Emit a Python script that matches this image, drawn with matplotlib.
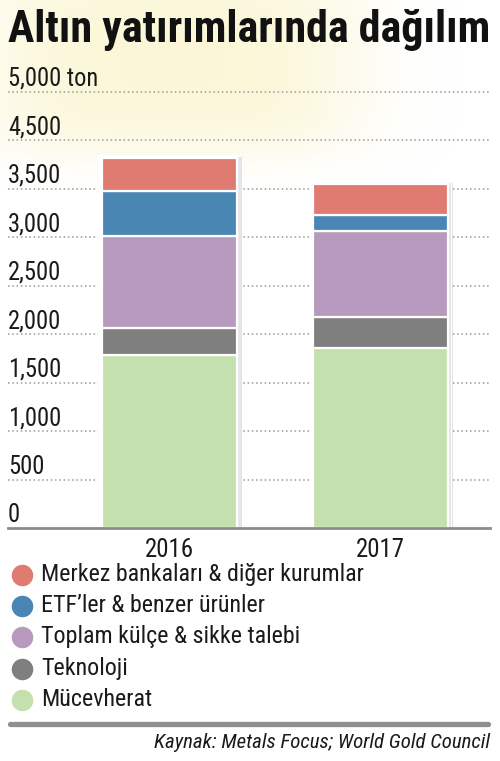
import matplotlib
matplotlib.use('Agg')
import matplotlib.pyplot as plt
import numpy as np
from matplotlib import font_manager as fm
from matplotlib.lines import Line2D
import matplotlib.transforms as mtransforms

# ---------------- data ----------------
years = ['2016', '2017']
mucevherat = [1785, 1857]
teknoloji = [275, 316]
kulce_sikke = [950, 896]
etf = [467, 165]
merkez = [344, 319]
series = [mucevherat, teknoloji, kulce_sikke, etf, merkez]
series_labels = ['Mücevherat', 'Teknoloji', 'Toplam külçe & sikke talebi',
                 'ETF’ler & benzer ürünler', 'Merkez bankaları & diğer kurumlar']
colors = ['#C4E0AF', '#7F7F80', '#B79ABD', '#4A86B4', '#E07B72']
tick_values = [0, 500, 1000, 1500, 2000, 2500, 3000, 3500, 4000, 4500]
tick_labels = ['0', '500', '1,000', '1,500', '2,000', '2,500', '3,000', '3,500',
               '4,500', '5,000 ton']
title = 'Altın yatırımlarında dağılım'
source = 'Kaynak: Metals Focus; World Gold Council'

# ---------------- fonts ----------------
entries = fm.fontManager.ttflist
pref = ['Liberation Sans Narrow', 'Roboto Condensed', 'Open Sans Condensed',
        'Noto Sans Condensed', 'Noto Sans', 'Roboto', 'DejaVu Sans']
cond = ('condensed', 'semi-condensed', 'extra-condensed', 'ultra-condensed')


def find_font(bold=False, italic=False):
    best = None
    best_score = -1e9
    for e in entries:
        if e.name not in pref:
            continue
        score = -pref.index(e.name) * 10
        st = str(e.stretch)
        if e.name in ('Noto Sans', 'Roboto', 'DejaVu Sans'):
            if st in cond or (isinstance(e.stretch, (int, float)) and e.stretch < 500):
                score += 5
            else:
                score -= 40
        w = e.weight if isinstance(e.weight, (int, float)) else fm.weight_dict.get(e.weight, 400)
        if bold:
            score -= abs(w - 800) / 100.0
        else:
            score -= abs(w - 400) / 100.0
        isit = e.style in ('italic', 'oblique')
        if isit != italic:
            score -= 20
        if score > best_score:
            best_score = score
            best = e
    if best is None:
        return fm.FontProperties(family='DejaVu Sans',
                                 weight='bold' if bold else 'normal',
                                 style='italic' if italic else 'normal')
    return fm.FontProperties(fname=best.fname)


f_reg = find_font()
f_bold = find_font(bold=True)
f_ital = find_font(italic=True)

W, H = 500, 761
fig = plt.figure(figsize=(W / 100, H / 100), dpi=100)
fig.patch.set_facecolor('white')

# decorative faint background (photo of gold in the original)
bg = fig.add_axes([0, 0, 1, 1], zorder=-10)
yy, xx = np.mgrid[0:H, 0:W]
img = np.ones((H, W, 4))
img[..., 0] = 251 / 255
img[..., 1] = 246 / 255
img[..., 2] = 212 / 255
m1 = np.exp(-(((xx - 170) / 190.0) ** 4 + ((yy - 60) / 95.0) ** 4))
img[..., 3] = 0.9 * m1 * (yy < 190)
bg.imshow(img, extent=[0, W, H, 0], aspect='auto', interpolation='bilinear')
bg.set_xlim(0, W)
bg.set_ylim(H, 0)
bg.axis('off')

# ---------------- main axes ----------------
px_per_ton = (528.3 - 91.7) / 4500.0
ymax = 4600
top_px = 528.3 - ymax * px_per_ton
ax_left = 8 / W
ax_w = (490 - 8) / W
ax_bot = 1 - 528.3 / H
ax_top = 1 - top_px / H
ax = fig.add_axes([ax_left, ax_bot, ax_w, ax_top - ax_bot])
ax.patch.set_alpha(0)

unit = 210.5
xl = -(169.5 - 8) / unit
xr = 1 + (490 - 380) / unit
ax.set_xlim(xl, xr)
ax.set_ylim(0, ymax)
bar_w = 135 / unit

x = np.arange(len(years))
totals = np.sum(np.array(series), axis=0)

# white halo + soft shadow behind bars
ax.bar(x + 4 / unit, totals + 2 / px_per_ton, width=bar_w + 2 / unit,
       color='#E3E3E8', zorder=2, linewidth=0)
ax.bar(x, totals + 3 / px_per_ton, width=bar_w + 8 / unit, color='white',
       zorder=2.2, linewidth=0)
ax.bar(x + 3 / unit, totals + 1 / px_per_ton, width=bar_w + 1 / unit,
       color='#E6E6EA', zorder=2.3, linewidth=0)

bottom = np.zeros(len(years))
for vals, col in zip(series, colors):
    ax.bar(x, vals, bottom=bottom, width=bar_w, color=col, edgecolor='white',
           linewidth=1.6, zorder=3)
    bottom = bottom + np.array(vals)

for s in ax.spines.values():
    s.set_visible(False)

# gridlines
for v in tick_values[1:]:
    ax.axhline(v, color='#9A9A9A', lw=1.1, ls=(0, (1, 1.8)), zorder=1, clip_on=False)
ax.axhline(0, color='#8C8C8C', lw=2.0, zorder=4, clip_on=False)

# y labels above gridlines
blend = mtransforms.blended_transform_factory(ax.transAxes, ax.transData)
ytrans = mtransforms.offset_copy(blend, fig=fig, y=6, units='dots')
ylabel_texts = []
for v, lab in zip(tick_values, tick_labels):
    t = ax.text(0, v, lab, transform=ytrans, ha='left', va='baseline',
                fontproperties=f_reg, fontsize=15, color='#1a1a1a', zorder=5)
    ylabel_texts.append(t)

ax.set_yticks([])
ax.set_xticks(x)
ax.set_xticklabels(years, fontproperties=f_reg, fontsize=17.5, color='#1a1a1a')
ax.tick_params(axis='x', length=0, pad=7)

# title
t_title = fig.text(8 / W, 1 - 42 / H, title, fontproperties=f_bold, fontsize=29,
                   color='#111111', ha='left', va='baseline')

# legend (manual)
rows_y = [575, 606, 637, 669, 700]
leg_texts = []
for i, (lab, col) in enumerate(zip(series_labels[::-1], colors[::-1])):
    yf = 1 - rows_y[i] / H
    fig.add_artist(Line2D([22 / W], [yf], marker='o', markersize=15.5,
                          markerfacecolor=col, markeredgewidth=0, linestyle='none',
                          transform=fig.transFigure))
    t = fig.text(41 / W, yf, lab, fontproperties=f_reg, fontsize=17.3,
                 color='#1a1a1a', ha='left', va='center')
    leg_texts.append(t)

# thick separator and source
fig.add_artist(Line2D([10 / W, 488 / W], [1 - 724 / H, 1 - 724 / H], color='#8F8F8F',
                      lw=3.8, solid_capstyle='round', transform=fig.transFigure))
t_src = fig.text(490 / W, 1 - 743 / H, source, fontproperties=f_ital, fontsize=16,
                 color='#1a1a1a', ha='right', va='center')

# fit text widths to reference
fig.canvas.draw()
r = fig.canvas.get_renderer()


def fit(texts, ref_text, target):
    w = ref_text.get_window_extent(r).width
    if w <= 0:
        return
    k = target / w
    k = max(0.7, min(1.35, k))
    for t in texts:
        t.set_fontsize(t.get_fontsize() * k)


fit([t_title], t_title, 482)
fit(leg_texts, leg_texts[0], 322)
fit([t_src], t_src, 337)
fit(ylabel_texts, ylabel_texts[-1], 90)
xt = ax.get_xticklabels()
fit(xt, xt[0], 49)

fig.savefig('out.png', dpi=100, facecolor='white')
